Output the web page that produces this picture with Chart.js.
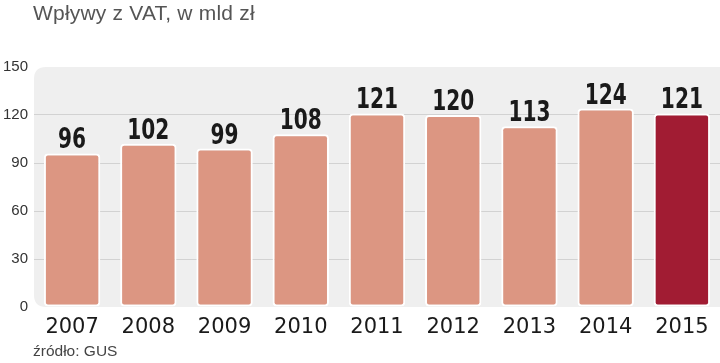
<!DOCTYPE html>
<html>
<head>
<meta charset="utf-8">
<script src="https://cdn.jsdelivr.net/npm/chart.js@4"></script>
<style>
  html, body { margin: 0; padding: 0; background: #fff; }
  #wrap { position: relative; width: 720px; height: 363px; }
  #title { position: absolute; left: 33px; top: 1px; font: 21px "Liberation Sans", sans-serif; color: #555; letter-spacing: 0.2px; }
  #source { position: absolute; left: 33px; top: 342px; font: 15.5px "Liberation Sans", sans-serif; color: #444; }
</style>
</head>
<body>
<div id="wrap">
  <canvas id="vatChart" width="720" height="363"></canvas>
  <div id="title">Wpływy z VAT, w mld zł</div>
  <div id="source">źródło: GUS</div>
</div>
<script>
// dane
var years = ['2007', '2008', '2009', '2010', '2011', '2012', '2013', '2014', '2015'];
var vat = [96, 102, 99, 108, 121, 120, 113, 124, 121];
var yTicks = [0, 30, 60, 90, 120, 150];

var barColors = years.map(function (y, i) {
    return i === years.length - 1 ? '#a11c33' : '#dc9682';
});

// szare tło obszaru wykresu
var bgPlugin = {
    id: 'bg',
    beforeDraw: function (chart) {
        var a = chart.chartArea, c = chart.ctx, r = 12;
        c.save();
        c.fillStyle = '#efefef';
        c.beginPath();
        c.moveTo(a.left + r, a.top);
        c.lineTo(chart.width, a.top);
        c.lineTo(chart.width, a.bottom);
        c.lineTo(a.left + r, a.bottom);
        c.quadraticCurveTo(a.left, a.bottom, a.left, a.bottom - r);
        c.lineTo(a.left, a.top + r);
        c.quadraticCurveTo(a.left, a.top, a.left + r, a.top);
        c.fill();
        c.restore();
    }
};

// wartości nad słupkami (zwężona czcionka)
var labelPlugin = {
    id: 'vals',
    afterDatasetsDraw: function (chart) {
        var c = chart.ctx;
        var meta = chart.getDatasetMeta(0);
        meta.data.forEach(function (bar, i) {
            c.save();
            c.translate(bar.x, bar.y - 5);
            c.scale(0.8, 1);
            c.font = 'bold 28px "DejaVu Sans Condensed", sans-serif';
            c.fillStyle = '#1a1a1a';
            c.textAlign = 'center';
            c.textBaseline = 'alphabetic';
            c.fillText(vat[i], 0, 0);
            c.restore();
        });
    }
};

var ctx = document.getElementById('vatChart').getContext('2d');
var vatChart = new Chart(ctx, {
    type: 'bar',
    data: {
        labels: years,
        datasets: [{
            data: vat,
            backgroundColor: barColors,
            borderColor: '#ffffff',
            borderWidth: 2,
            borderRadius: 4,
            borderSkipped: false,
            categoryPercentage: 0.74,
            barPercentage: 1
        }]
    },
    options: {
        responsive: false,
        animation: false,
        layout: { padding: { top: 67, right: 0, left: 0, bottom: 0 } },
        plugins: {
            legend: { display: false },
            tooltip: { enabled: false }
        },
        scales: {
            y: {
                min: 0,
                max: 150,
                afterFit: function (s) { s.width = 34; },
                afterBuildTicks: function (s) {
                    s.ticks = yTicks.map(function (v) { return { value: v }; });
                },
                border: { display: false },
                grid: {
                    color: function (c) { return c.tick.value === 0 || c.tick.value === 150 ? 'rgba(0,0,0,0)' : '#d2d2d2'; },
                    drawTicks: false
                },
                ticks: {
                    padding: 6,
                    color: '#333',
                    font: { family: '"Liberation Sans", sans-serif', size: 15 }
                }
            },
            x: {
                afterFit: function (s) { s.height = 56; },
                border: { display: false },
                grid: { display: false },
                ticks: {
                    padding: 0,
                    color: '#1a1a1a',
                    font: { family: '"DejaVu Sans", sans-serif', size: 21 }
                }
            }
        }
    },
    plugins: [bgPlugin, labelPlugin]
});
</script>
</body>
</html>
